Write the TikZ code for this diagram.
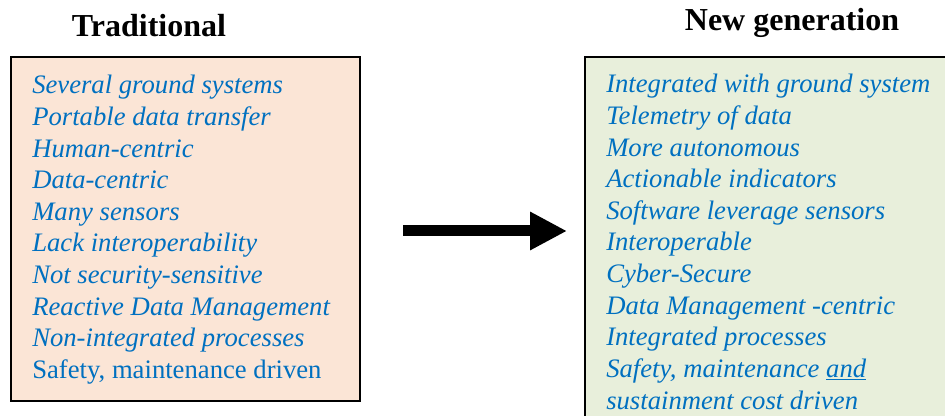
\documentclass[tikz,border=0pt]{standalone}
\usepackage{fontspec}
\setmainfont{Liberation Serif}
\usetikzlibrary{arrows.meta}

\definecolor{peach}{HTML}{FBE5D6}
\definecolor{palegreen}{HTML}{E8EFDB}
\definecolor{itemblue}{HTML}{0070C0}

\tikzset{
  heading/.style={font=\fontsize{24}{28}\selectfont\bfseries, anchor=base},
  item/.style={font=\fontsize{20}{24}\selectfont\itshape, text=itemblue,
    anchor=base west, inner sep=0pt},
  framed/.style={line width=1.5pt, draw=black},
  bigarrow/.style={line width=8.25pt, -{Triangle[length=27.75pt, width=27pt]}}
}

\begin{document}
\begin{tikzpicture}[x=0.75pt,y=-0.75pt]
\useasboundingbox (0,0) rectangle (945,416);

% headings
\node[heading] (tradtitle) at (149,37) {Traditional};
\node[heading] (newtitle) at (792,31) {New generation};

% the two boxes
\fill[peach, framed] (11,57) rectangle (360,401);
\fill[palegreen] (585,57) rectangle (950,420);
\draw[framed] (950,57) -- (585,57) -- (585,420);

% traditional list
\foreach \txt [count=\i from 0] in {Several ground systems, Portable data transfer,
  Human-centric, Data-centric, Many sensors, Lack interoperability,
  Not security-sensitive, Reactive Data Management, Non-integrated processes}
  \node[item] (trad\i) at (32,94+31.6*\i) {\txt};
\node[item, font=\fontsize{20}{24}\selectfont\upshape] (trad9) at (32,94+31.6*9)
  {Safety, maintenance driven};

% new generation list
\foreach \txt [count=\i from 0] in {Integrated with ground system, Telemetry of data,
  More autonomous, Actionable indicators, Software leverage sensors,
  Interoperable, Cyber-Secure, Data Management -centric, Integrated processes,
  {Safety, maintenance \underline{and}}, sustainment cost driven}
  \node[item] (newg\i) at (606,93+31.6*\i) {\txt};

% the arrow
\coordinate (from) at (403,231);
\coordinate (to) at (567,231);
\draw[bigarrow] (from) -- (to);
\end{tikzpicture}
\end{document}
